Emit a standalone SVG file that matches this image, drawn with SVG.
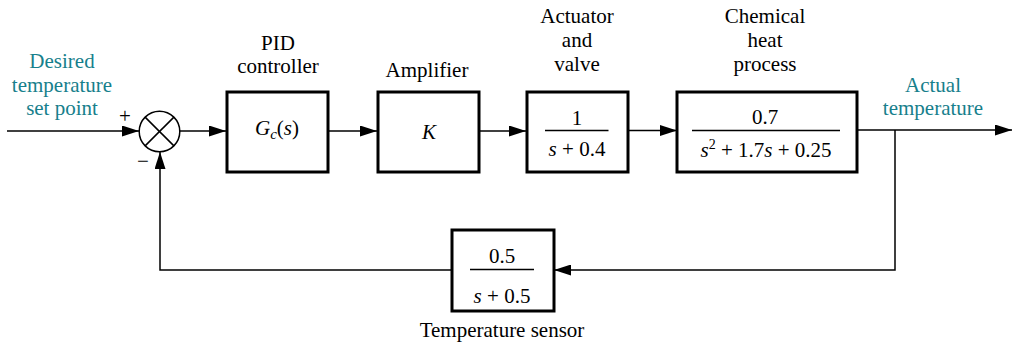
<svg xmlns="http://www.w3.org/2000/svg" width="1013" height="345" viewBox="0 0 1013 345">
<style>
text{font-family:"Liberation Serif","Times New Roman",serif;font-size:21px;fill:#000;text-anchor:middle}
.teal{fill:#17808c}
.i{font-style:italic}
.box{fill:#fff;stroke:#000;stroke-width:3}
.ln{fill:none;stroke:#000;stroke-width:1.5}
.frac{stroke:#000;stroke-width:1.5}
</style>
<defs>
<marker id="ah" markerWidth="17" markerHeight="11" refX="17" refY="5.5" orient="auto" markerUnits="userSpaceOnUse">
<path d="M0,0 L17,5.5 L0,11 Z" fill="#000"/>
</marker>
</defs>
<g id="connectors">
<line class="ln" x1="7" y1="131" x2="139" y2="131" marker-end="url(#ah)"/>
<line class="ln" x1="180" y1="131" x2="226" y2="131" marker-end="url(#ah)"/>
<line class="ln" x1="328" y1="131" x2="377" y2="131" marker-end="url(#ah)"/>
<line class="ln" x1="479" y1="131" x2="526" y2="131" marker-end="url(#ah)"/>
<line class="ln" x1="628" y1="130.5" x2="677" y2="130.5" marker-end="url(#ah)"/>
<line class="ln" x1="857" y1="130" x2="1012" y2="130" marker-end="url(#ah)"/>
<polyline class="ln" points="895,130 895,270 554,270" marker-end="url(#ah)"/>
<polyline class="ln" points="452,270 160,270 160,152" marker-end="url(#ah)"/>
</g>
<g id="sum">
<circle cx="159.5" cy="131.5" r="20.3" fill="#fff" stroke="#000" stroke-width="1.5"/>
<line class="ln" x1="145.1" y1="117.1" x2="173.9" y2="145.9"/>
<line class="ln" x1="173.9" y1="117.1" x2="145.1" y2="145.9"/>
<text x="125" y="123">+</text>
<text x="143" y="168">−</text>
</g>
<g id="input-label">
<text class="teal" x="62" y="67.5">Desired</text>
<text class="teal" x="62" y="91.5">temperature</text>
<text class="teal" x="62" y="115">set point</text>
</g>
<g id="pid">
<text x="278" y="49.5">PID</text>
<text x="278" y="72.5">controller</text>
<rect class="box" x="227" y="92" width="101" height="80"/>
<text x="277" y="135"><tspan class="i">G</tspan><tspan class="i" font-size="15" dy="4">c</tspan><tspan dy="-4">(</tspan><tspan class="i">s</tspan>)</text>
</g>
<g id="amplifier">
<text x="427" y="76.5">Amplifier</text>
<rect class="box" x="378" y="92" width="101" height="80"/>
<text class="i" x="429" y="139">K</text>
</g>
<g id="actuator">
<text x="577" y="22.5">Actuator</text>
<text x="577" y="46.5">and</text>
<text x="577" y="70.5">valve</text>
<rect class="box" x="527" y="92" width="101" height="80"/>
<text x="577" y="124.5">1</text>
<line class="frac" x1="545" y1="130.5" x2="608.5" y2="130.5"/>
<text x="577" y="155.5"><tspan class="i">s</tspan> + 0.4</text>
</g>
<g id="chemical">
<text x="765" y="22.5">Chemical</text>
<text x="765" y="46.5">heat</text>
<text x="765" y="70.5">process</text>
<rect class="box" x="677" y="92" width="180" height="80"/>
<text x="765" y="123.5">0.7</text>
<line class="frac" x1="692" y1="130.5" x2="840" y2="130.5"/>
<text x="766" y="156.5"><tspan class="i">s</tspan><tspan font-size="14" dy="-8">2</tspan><tspan dy="8"> + 1.7</tspan><tspan class="i">s</tspan> + 0.25</text>
</g>
<g id="output-label">
<text class="teal" x="933" y="91.5">Actual</text>
<text class="teal" x="933" y="115">temperature</text>
</g>
<g id="sensor">
<rect class="box" x="452" y="230" width="102" height="81"/>
<text x="502" y="263">0.5</text>
<line class="frac" x1="470" y1="269.5" x2="534" y2="269.5"/>
<text x="502" y="303"><tspan class="i">s</tspan> + 0.5</text>
<text x="502" y="336.5">Temperature sensor</text>
</g>
</svg>
